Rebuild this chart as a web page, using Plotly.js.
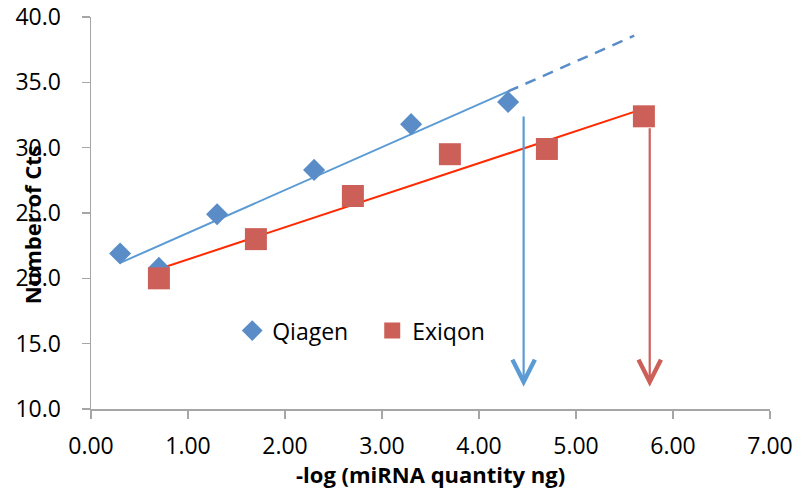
<!DOCTYPE html>
<html>
<head>
<meta charset="utf-8">
<script src="https://cdn.plot.ly/plotly-3.0.1.min.js"></script>
<style>html,body{margin:0;padding:0;background:#fff;}#chart{width:807px;height:491px;}</style>
</head>
<body>
<div id="chart"></div>
<script>
// ---- data ----
var qiagenX = [0.3, 0.7, 1.3, 2.3, 3.3, 4.3];
var qiagenY = [21.9, 20.8, 24.9, 28.3, 31.8, 33.5];
var exiqonX = [0.7, 1.7, 2.7, 3.7, 4.7, 5.7];
var exiqonY = [20.0, 23.0, 26.3, 29.5, 29.9, 32.4];
var qiagenDashEnd = 5.6;          // extrapolated end of Qiagen fit
var arrowX   = [4.46, 5.76];      // where the arrows are drawn
var arrowTop = [32.5, 31.6];
var arrowTip = [11.7, 11.7];
var yTicks = [10, 15, 20, 25, 30, 35, 40];
var xTicks = [0, 1, 2, 3, 4, 5, 6, 7];
var xTitle = '-log (miRNA quantity ng)';
var yTitle = 'Number of Cts';

function fit(xs, ys) {
  var n = xs.length, mx = 0, my = 0;
  for (var i = 0; i < n; i++) { mx += xs[i]; my += ys[i]; }
  mx /= n; my /= n;
  var sxx = 0, sxy = 0;
  for (var j = 0; j < n; j++) { sxx += (xs[j]-mx)*(xs[j]-mx); sxy += (xs[j]-mx)*(ys[j]-my); }
  var b = sxy / sxx, a = my - b*mx;
  return function (x) { return a + b*x; };
}
var fq = fit(qiagenX, qiagenY);
var fe = fit(exiqonX, exiqonY);
var qMin = Math.min.apply(null, qiagenX), qMax = Math.max.apply(null, qiagenX);
var eMin = Math.min.apply(null, exiqonX), eMax = Math.max.apply(null, exiqonX);

var FONT = '"Open Sans", Lato, sans-serif';
var blue = '#5B9BD5', blueMk = '#5A8DC8', red = '#FF2A00', redMk = '#CD5F59';

var traces = [
  {x: [qMin, qMax], y: [fq(qMin), fq(qMax)], mode: 'lines', line: {color: blue, width: 2}, showlegend: false, hoverinfo: 'skip'},
  {x: [qMax, qiagenDashEnd], y: [fq(qMax), fq(qiagenDashEnd)], mode: 'lines', line: {color: blueMk, width: 2.5, dash: '11px,8px'}, showlegend: false, hoverinfo: 'skip'},
  {x: [eMin, eMax], y: [fe(eMin), fe(eMax)], mode: 'lines', line: {color: red, width: 2}, showlegend: false, hoverinfo: 'skip'},
  {x: qiagenX, y: qiagenY, name: 'Qiagen', mode: 'markers', marker: {symbol: 'diamond', size: 17, color: blueMk}},
  {x: exiqonX, y: exiqonY, name: 'Exiqon', mode: 'markers', marker: {symbol: 'square', size: 22, color: redMk}}
];

var arrowColors = [blue, redMk];
var annotations = arrowX.map(function (x, i) {
  return {x: x, y: arrowTip[i], ax: x, ay: arrowTop[i], xref: 'x', yref: 'y', axref: 'x', ayref: 'y',
          showarrow: true, arrowhead: 5, arrowsize: 2, arrowwidth: 2.2, arrowcolor: arrowColors[i], standoff: 0, text: ''};
});
annotations.push({text: '<b>' + yTitle + '</b>', xref: 'paper', yref: 'paper', x: 0, y: 0.469, xshift: -59,
  xanchor: 'center', yanchor: 'middle', textangle: -90, showarrow: false, font: {family: FONT, size: 22, color: '#000'}});
annotations.push({text: '<b>' + xTitle + '</b>', xref: 'paper', yref: 'paper', x: 0.5, y: 0, yshift: -65,
  xanchor: 'center', yanchor: 'middle', showarrow: false, font: {family: FONT, size: 22, color: '#000'}});

var layout = {
  width: 807, height: 491,
  margin: {l: 91, r: 37, t: 17, b: 82},
  paper_bgcolor: '#fff', plot_bgcolor: '#fff',
  font: {family: FONT, size: 23, color: '#000'},
  showlegend: true,
  legend: {orientation: 'h', x: 0.208, y: 0.2, xanchor: 'left', yanchor: 'middle', entrywidth: 95,
           font: {family: FONT, size: 23, color: '#000'}, bgcolor: 'rgba(0,0,0,0)'},
  xaxis: {range: [0, 7], tickvals: xTicks, tickformat: '.2f', showgrid: false, zeroline: false,
          showline: true, linecolor: '#A6A6A6', linewidth: 1.5, ticks: 'outside', ticklen: 8, tickwidth: 1.5, tickcolor: '#A6A6A6',
          ticklabelstandoff: 8},
  yaxis: {range: [10, 40], tickvals: yTicks, tickformat: '.1f', showgrid: false, zeroline: false,
          showline: true, linecolor: '#A6A6A6', linewidth: 1.5, ticks: 'outside', ticklen: 8, tickwidth: 1.5, tickcolor: '#A6A6A6',
          ticklabelstandoff: 16},
  annotations: annotations
};

Plotly.newPlot('chart', traces, layout, {displayModeBar: false, staticPlot: true});
</script>
</body>
</html>
